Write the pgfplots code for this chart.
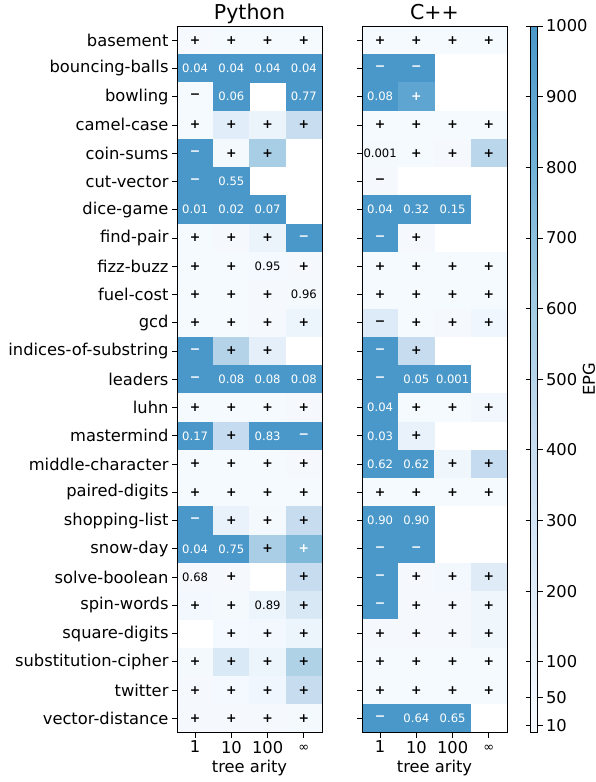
\documentclass[border=0pt]{standalone}
\usepackage{fontspec}
\setmainfont{DejaVu Sans}
\usepackage{pgfplots}
\usepackage{pgfplotstable}
\pgfplotsset{compat=1.18}

% one filled cell of the heat map (36.25pt x 28.26pt)
\pgfdeclareplotmark{cell}{%
  \pgfpathrectangle{\pgfqpoint{-18.2pt}{-14.2pt}}{\pgfqpoint{36.4pt}{28.4pt}}%
  \pgfusepathqfill}

\newcommand\p{{\fontsize{12.5}{12.5}\bfseries\selectfont +}}
\newcommand\m{{\fontsize{12.5}{12.5}\bfseries\selectfont −}}

\pgfplotsset{
  colormap={epg}{rgb255(0pt)=(247,251,255) rgb255(125pt)=(222,235,247)
    rgb255(250pt)=(198,219,239) rgb255(375pt)=(158,202,225)
    rgb255(500pt)=(107,174,214) rgb255(600pt)=(74,152,201)},
  hm/.style={
    scale only axis, width=145pt, height=706.5pt,
    xmin=-0.5, xmax=3.5, ymin=-0.5, ymax=24.5, y dir=reverse,
    xtick={0,1,2,3},
    xticklabels={1,10,100,{\mbox{\vphantom{1}\raisebox{1.5pt}{\fontsize{13}{13}\selectfont ∞}}}},
    ytick={0,...,24},
    tick align=outside, major tick length=5pt, xtick pos=left, ytick pos=left,
    tick style={black, line width=0.8pt},
    axis line style={black, line width=0.8pt},
    colormap name=epg, point meta min=0, point meta max=1000,
    tick label style={font=\fontsize{16.3}{16.3}\selectfont},
    xlabel={tree arity}, label style={font=\fontsize{16.3}{16.3}\selectfont},
    title style={font=\fontsize{20.5}{20.5}\selectfont, at={(0.5,1)}, anchor=base, yshift=0.5pt},
    axis on top, clip marker paths=true,
  },
  cellfill/.style={scatter, only marks, mark=cell,
    scatter/use mapped color={draw=none, fill=mapped color},
    point meta=explicit},
  celltext/.style={only marks, mark=none, nodes near coords,
    point meta=explicit symbolic,
    every node near coord/.style={anchor=center, inner sep=0pt, text=#1,
      font=\fontsize{11.6}{11.6}\selectfont}},
}

% c = column (tree arity), r = row (problem), v = EPG, t = cell text
\pgfplotstableread{
c r v t
0 0 12 \p
1 0 15 \p
2 0 15 \p
3 0 18 \p
0 1 1000 0.04
1 1 1000 0.04
2 1 1000 0.04
3 1 1000 0.04
0 2 15 \m
1 2 1000 0.06
3 2 1000 0.77
0 3 15 \p
1 3 180 \p
2 3 100 \p
3 3 390 \p
0 4 1000 \m
1 4 25 \p
2 4 580 \p
0 5 1000 \m
1 5 1000 0.55
0 6 1000 0.01
1 6 1000 0.02
2 6 1000 0.07
0 7 15 \p
1 7 20 \p
2 7 100 \p
3 7 1000 \m
0 8 15 \p
1 8 15 \p
2 8 30 0.95
3 8 20 \p
0 9 15 \p
1 9 15 \p
2 9 20 \p
3 9 25 0.96
0 10 15 \p
1 10 15 \p
2 10 20 \p
3 10 80 \p
0 11 1000 \m
1 11 510 \p
2 11 150 \p
0 12 1000 \m
1 12 1000 0.08
2 12 1000 0.08
3 12 1000 0.08
0 13 15 \p
1 13 15 \p
2 13 15 \p
3 13 20 \p
0 14 1000 0.17
1 14 420 \p
2 14 1000 0.83
3 14 1000 \m
0 15 15 \p
1 15 15 \p
2 15 15 \p
3 15 20 \p
0 16 15 \p
1 16 15 \p
2 16 15 \p
3 16 15 \p
0 17 1000 \m
1 17 120 \p
2 17 25 \p
3 17 410 \p
0 18 1000 0.04
1 18 1000 0.75
2 18 570 \p
3 18 750 \p
0 19 20 0.68
1 19 20 \p
3 19 400 \p
0 20 40 \p
1 20 25 \p
2 20 80 0.89
3 20 250 \p
1 21 30 \p
2 21 40 \p
3 21 90 \p
0 22 25 \p
1 22 240 \p
2 22 90 \p
3 22 530 \p
0 23 20 \p
1 23 30 \p
2 23 60 \p
3 23 410 \p
0 24 20 \p
1 24 20 \p
2 24 20 \p
3 24 25 \p
}\python

\pgfplotstableread{
c r v t
0 0 15 \p
1 0 15 \p
2 0 15 \p
3 0 15 \p
0 1 1000 \m
1 1 1000 \m
0 2 1000 0.08
1 2 900 \p
0 3 15 \p
1 3 15 \p
2 3 15 \p
3 3 15 \p
0 4 25 0.001
1 4 15 \p
2 4 20 \p
3 4 480 \p
0 5 20 \m
0 6 1000 0.04
1 6 1000 0.32
2 6 1000 0.15
0 7 1000 \m
1 7 20 \p
0 8 15 \p
1 8 15 \p
2 8 15 \p
3 8 15 \p
0 9 15 \p
1 9 15 \p
2 9 15 \p
3 9 15 \p
0 10 220 \m
1 10 15 \p
2 10 20 \p
3 10 60 \p
0 11 1000 \m
1 11 410 \p
0 12 1000 \m
1 12 1000 0.05
2 12 1000 0.001
0 13 1000 0.04
1 13 15 \p
2 13 15 \p
3 13 50 \p
0 14 1000 0.03
1 14 120 \p
0 15 1000 0.62
1 15 1000 0.62
2 15 70 \p
3 15 420 \p
0 16 15 \p
1 16 15 \p
2 16 15 \p
3 16 15 \p
0 17 1000 0.90
1 17 1000 0.90
0 18 1000 \m
1 18 1000 \m
0 19 1000 \m
1 19 20 \p
2 19 40 \p
3 19 200 \p
0 20 1000 \m
1 20 20 \p
2 20 20 \p
3 20 70 \p
0 21 20 \p
1 21 20 \p
2 21 20 \p
3 21 70 \p
0 22 15 \p
1 22 15 \p
2 22 15 \p
3 22 15 \p
0 23 15 \p
1 23 15 \p
2 23 15 \p
3 23 15 \p
0 24 1000 \m
1 24 1000 0.64
2 24 1000 0.65
}\cpp

\begin{document}
\begin{tikzpicture}
\useasboundingbox (0,0) rectangle (596pt,782pt);
\begin{axis}[hm, at={(177pt,49.5pt)}, anchor=south west, title={Python},
  yticklabels={basement,bouncing-balls,bowling,camel-case,coin-sums,cut-vector,
    dice-game,find-pair,fizz-buzz,fuel-cost,gcd,indices-of-substring,leaders,luhn,
    mastermind,middle-character,paired-digits,shopping-list,snow-day,solve-boolean,
    spin-words,square-digits,substitution-cipher,twitter,vector-distance}]
\addplot[cellfill] table[x=c, y=r, meta=v] {\python};
\addplot[celltext=black, restrict expr to domain={\thisrow{v}}{0:650}]
  table[x=c, y=r, meta=t] {\python};
\addplot[celltext=white, restrict expr to domain={\thisrow{v}}{650:2000}]
  table[x=c, y=r, meta=t] {\python};
\end{axis}
\begin{axis}[hm, name=cpp, at={(362pt,49.5pt)}, anchor=south west, title={C++},
  yticklabels={},
  colorbar,
  colorbar style={at={(parent axis.north east)}, anchor=north west, xshift=15pt,
    width=7pt, ytick={10,50,100,200,300,400,500,600,700,800,900,1000},
    tick align=outside, major tick length=5pt,
    tick style={black, line width=0.8pt},
    axis line style={black, line width=0.6pt},
    yticklabel style={font=\fontsize{16.3}{16.3}\selectfont,
      /pgf/number format/1000 sep={}, /pgf/number format/assume math mode=true}}]
\addplot[cellfill] table[x=c, y=r, meta=v] {\cpp};
\addplot[celltext=black, restrict expr to domain={\thisrow{v}}{0:650}]
  table[x=c, y=r, meta=t] {\cpp};
\addplot[celltext=white, restrict expr to domain={\thisrow{v}}{650:2000}]
  table[x=c, y=r, meta=t] {\cpp};
\end{axis}
% colour bar label
\node[rotate=90, font=\fontsize{16.3}{16.3}\selectfont, inner sep=0pt]
  at ([xshift=82pt]cpp.east) {EPG};
\end{tikzpicture}
\end{document}
